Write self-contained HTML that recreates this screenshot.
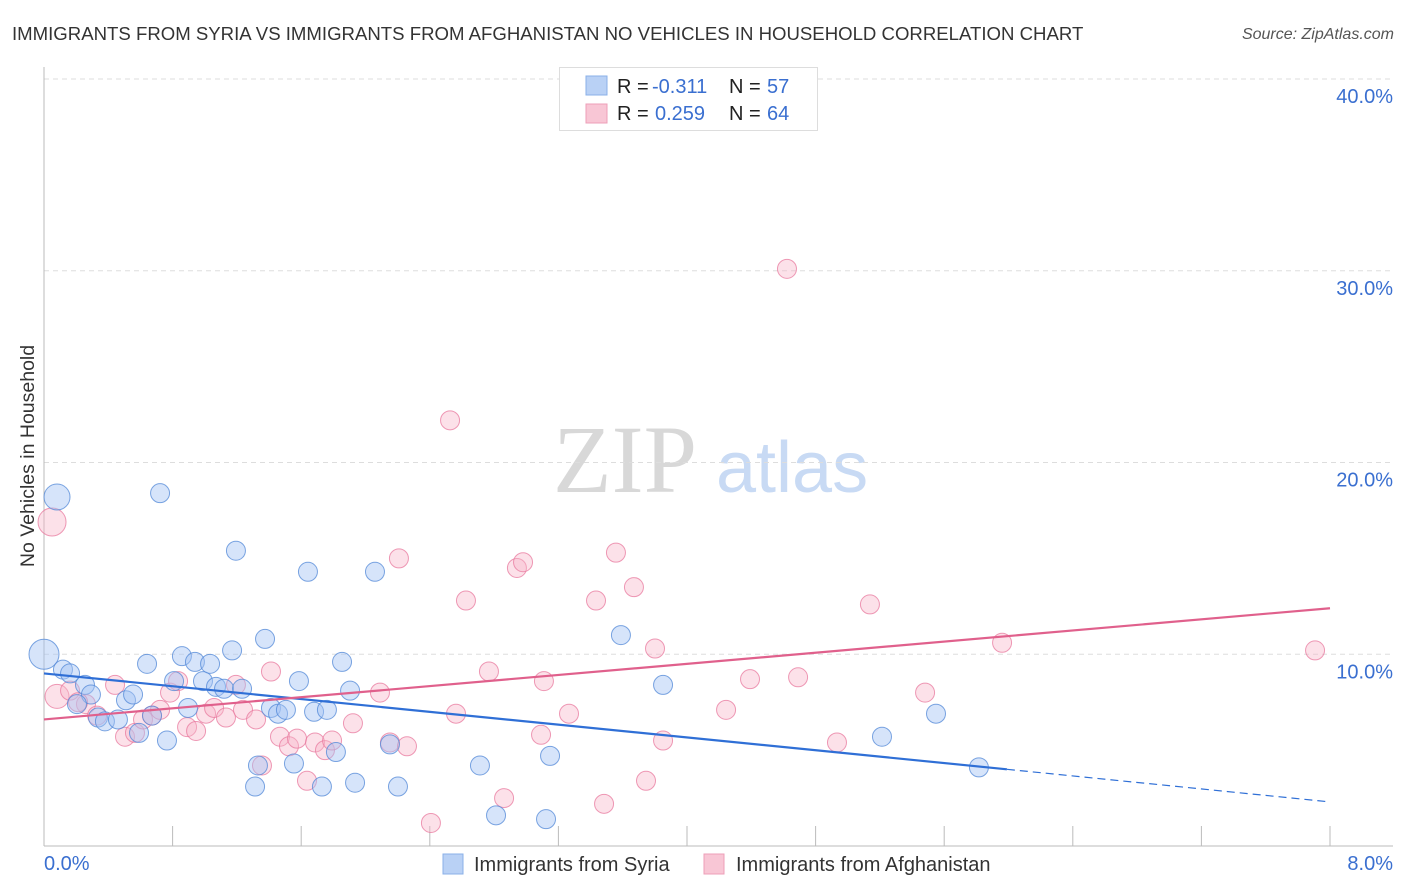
<!DOCTYPE html>
<html><head><meta charset="utf-8"><style>
body{margin:0;background:#fff;font-family:"Liberation Sans",sans-serif;}
#wrap{position:relative;width:1406px;height:892px;overflow:hidden;}
</style></head><body>
<div id="wrap">
<svg id="svg" width="1406" height="892" xmlns="http://www.w3.org/2000/svg">
<text x="12" y="40" font-size="18.6" fill="#333">IMMIGRANTS FROM SYRIA VS IMMIGRANTS FROM AFGHANISTAN NO VEHICLES IN HOUSEHOLD CORRELATION CHART</text>
<text x="1394" y="39" font-size="16" fill="#555" font-style="italic" text-anchor="end">Source: ZipAtlas.com</text>
<text x="34" y="456" font-size="19.5" fill="#333" text-anchor="middle" transform="rotate(-90 34 456)">No Vehicles in Household</text>
<g>
<text x="553" y="492" font-size="96" fill="#d8d8d8" font-family="Liberation Serif,serif">ZIP</text>
<text x="716" y="492" font-size="72" fill="#c8daf4">atlas</text>
</g>
<g id="grid"></g>
<g id="axes"></g>
<g id="pts"></g>
<g id="trend"></g>
<g>
<rect x="559.5" y="67.5" width="258" height="63" fill="#fff" stroke="#ddd"/>
<rect x="586" y="76" width="21" height="19" fill="#b9d1f5" stroke="#8ab0e8"/>
<rect x="586" y="104" width="21" height="19" fill="#f8c6d5" stroke="#ee9fb8"/>
<text x="617" y="93" font-size="20" fill="#222">R = <tspan x="652" fill="#3a6fd0">-0.311</tspan><tspan x="729">N = </tspan><tspan x="767" fill="#3a6fd0">57</tspan></text>
<text x="617" y="120" font-size="20" fill="#222">R = <tspan x="655" fill="#3a6fd0">0.259</tspan><tspan x="729">N = </tspan><tspan x="767" fill="#3a6fd0">64</tspan></text>
</g>
<g>
<rect x="443" y="854" width="20" height="20" fill="#b9d1f5" stroke="#8ab0e8"/>
<text x="474" y="871" font-size="20" fill="#333">Immigrants from Syria</text>
<rect x="704" y="854" width="20" height="20" fill="#f8c6d5" stroke="#ee9fb8"/>
<text x="736" y="871" font-size="20" fill="#333">Immigrants from Afghanistan</text>
</g>
</svg>
</div>
<script>
const yTicks=[10,20,30,40];
const yTickLabels=["10.0%","20.0%","30.0%","40.0%"];
const xTicks=[0,0.8,1.6,2.4,3.2,4.0,4.8,5.6,6.4,7.2,8.0];
const xTickLabels=["0.0%","8.0%"];
const syriaX=[0.081,0,0.118,0.162,0.255,0.292,0.205,0.336,0.379,0.510,0.554,0.460,0.591,0.641,0.672,0.722,0.765,0.809,0.858,0.896,0.939,0.989,1.033,1.070,1.120,1.170,1.194,1.232,1.331,1.313,1.375,1.412,1.456,1.505,1.555,1.586,1.642,1.680,1.729,1.760,1.816,1.854,1.904,1.935,2.059,2.152,2.202,2.712,2.812,3.123,3.148,3.589,3.851,5.213,5.549,5.816];
const syriaY=[18.2,10.0,9.2,9.0,8.4,7.9,7.4,6.7,6.5,7.6,7.9,6.6,5.9,9.5,6.8,18.4,5.5,8.6,9.9,7.2,9.6,8.6,9.5,8.3,8.2,10.2,15.4,8.2,4.2,3.1,10.8,7.2,6.9,7.1,4.3,8.6,14.3,7.0,3.1,7.1,4.9,9.6,8.1,3.3,14.3,5.3,3.1,4.2,1.6,1.4,4.7,11.0,8.4,5.7,6.9,4.1];
const syriaR=[13,15,9.5,9.5,9.5,9.5,9.5,9.5,9.5,9.5,9.5,9.5,9.5,9.5,9.5,9.5,9.5,9.5,9.5,9.5,9.5,9.5,9.5,9.5,9.5,9.5,9.5,9.5,9.5,9.5,9.5,9.5,9.5,9.5,9.5,9.5,9.5,9.5,9.5,9.5,9.5,9.5,9.5,9.5,9.5,9.5,9.5,9.5,9.5,9.5,9.5,9.5,9.5,9.5,9.5,9.5];
const afgX=[0.050,0.081,0.162,0.261,0.212,0.330,0.442,0.504,0.566,0.616,0.672,0.722,0.784,0.834,0.890,0.946,1.008,1.058,1.132,1.194,1.238,1.319,1.356,1.412,1.468,1.524,1.574,1.636,1.686,1.748,1.792,1.922,2.090,2.152,2.208,2.258,2.407,2.526,2.563,2.625,2.768,2.862,2.942,2.980,3.092,3.110,3.266,3.434,3.484,3.558,3.670,3.745,3.801,3.851,4.243,4.392,4.622,4.691,4.933,5.138,5.481,5.960,7.907];
const afgY=[16.9,7.8,8.1,7.4,7.5,6.8,8.4,5.7,5.9,6.6,6.8,7.1,8.0,8.6,6.2,6.0,6.9,7.2,6.7,8.4,7.1,6.6,4.2,9.1,5.7,5.2,5.6,3.4,5.4,5.0,5.5,6.4,8.0,5.4,15.0,5.2,1.2,22.2,6.9,12.8,9.1,2.5,14.5,14.8,5.8,8.6,6.9,12.8,2.2,15.3,13.5,3.4,10.3,5.5,7.1,8.7,30.1,8.8,5.4,12.6,8.0,10.6,10.2];
const afgR=[14,12];
const syriaTrend=[9.0,4.0,2.3];
const syriaTrendX=[0,5.99,8];
const afgTrend=[6.6,12.4];
const afgTrendX=[0,8];

const NS="http://www.w3.org/2000/svg";
const X0=44,X1=1330,Y0=846,PY=19.175;
function sx(v){return X0+(v/8)*(X1-X0);}
function sy(v){return Y0-v*PY;}
function mk(tag,attrs,parent){const e=document.createElementNS(NS,tag);for(const k in attrs)e.setAttribute(k,attrs[k]);parent.appendChild(e);return e;}
const grid=document.getElementById('grid'),axes=document.getElementById('axes'),pts=document.getElementById('pts'),trend=document.getElementById('trend');
yTicks.forEach((t,i)=>{
  const l=mk('line',{x1:44,x2:1393,y1:sy(t),y2:sy(t),stroke:'#ddd','stroke-dasharray':'5,4'},grid);
  
  
  const tx=mk('text',{x:1393,y:sy(t)+24,'font-size':20,fill:'#3a6fd0','text-anchor':'end'},axes);
  tx.textContent=yTickLabels[i];
  
  
});
const ya=mk('line',{x1:44,x2:44,y1:67,y2:846,stroke:'#bbb'},axes);


const xa=mk('line',{x1:44,x2:1393,y1:846,y2:846,stroke:'#bbb'},axes);


xTicks.forEach(t=>{
  const l=mk('line',{x1:sx(t),x2:sx(t),y1:826,y2:846,stroke:'#bbb'},axes);
  
  
});
const xl0=mk('text',{x:44,y:870,'font-size':20,fill:'#3a6fd0'},axes);
xl0.textContent=xTickLabels[0];


const xl1=mk('text',{x:1393,y:870,'font-size':20,fill:'#3a6fd0','text-anchor':'end'},axes);
xl1.textContent=xTickLabels[1];


afgX.forEach((x,i)=>{
  const c=mk('circle',{cx:sx(x),cy:sy(afgY[i]),r:afgR[i]||9.5,fill:'rgba(248,180,200,0.4)',stroke:'rgba(232,120,158,0.75)','stroke-width':1},pts);
  
  
});
syriaX.forEach((x,i)=>{
  const c=mk('circle',{cx:sx(x),cy:sy(syriaY[i]),r:syriaR[i],fill:'rgba(164,196,244,0.45)',stroke:'rgba(80,135,215,0.75)','stroke-width':1},pts);
  
  
});
const bl=mk('line',{x1:sx(syriaTrendX[0]),y1:sy(syriaTrend[0]),x2:sx(syriaTrendX[1]),y2:sy(syriaTrend[1]),stroke:'#2f6fd6','stroke-width':2.2},trend);


const bd=mk('line',{x1:sx(syriaTrendX[1]),y1:sy(syriaTrend[1]),x2:sx(syriaTrendX[2]),y2:sy(syriaTrend[2]),stroke:'#2f6fd6','stroke-width':1.2,'stroke-dasharray':'8,5'},trend);


const pl=mk('line',{x1:sx(afgTrendX[0]),y1:sy(afgTrend[0]),x2:sx(afgTrendX[1]),y2:sy(afgTrend[1]),stroke:'#e0608c','stroke-width':2.2},trend);


</script>
</body></html>
